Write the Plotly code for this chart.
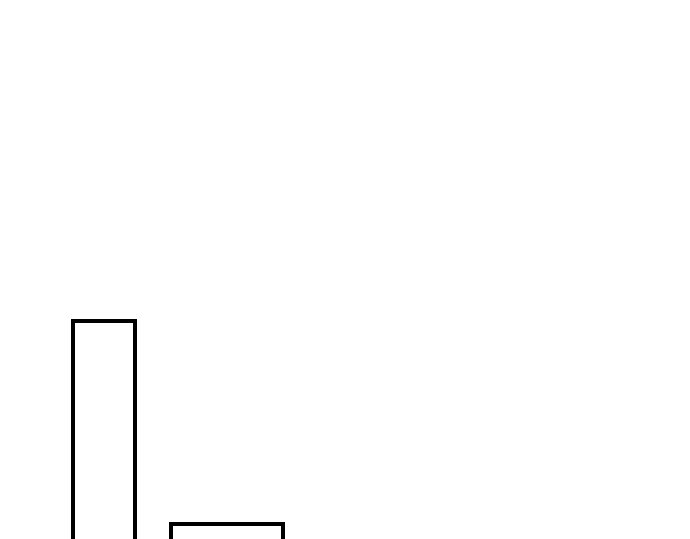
import plotly.graph_objects as go

# Data
categories = ["A", "B"]
values = [271, 68]          # bar heights (bars run past the bottom of the view)
widths = [62, 112]          # bar widths (data units)
gap = 36
start = 65

# Build x positions cumulatively (marimekko-like layout)
centers = []
left = start
for w in widths:
    centers.append(left + w / 2)
    left += w + gap

fig = go.Figure(
    go.Bar(
        x=centers,
        y=values,
        width=widths,
        marker=dict(color="white", line=dict(color="black", width=4)),
        hoverinfo="skip",
        cliponaxis=True,
    )
)

fig.update_layout(
    width=690,
    height=539,
    margin=dict(l=0, r=0, t=0, b=0),
    paper_bgcolor="white",
    plot_bgcolor="white",
    showlegend=False,
    xaxis=dict(range=[0, 690], visible=False, fixedrange=True),
    yaxis=dict(range=[45, 584], visible=False, fixedrange=True),
)

fig.write_html("out.html", config={"displayModeBar": False})
